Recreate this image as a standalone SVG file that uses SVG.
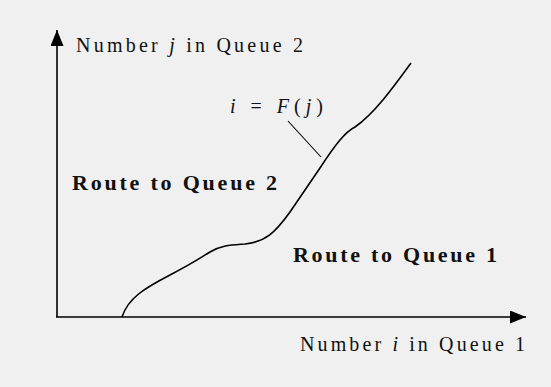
<svg xmlns="http://www.w3.org/2000/svg" width="551" height="387" viewBox="0 0 551 387">
<style>
text{font-family:"Liberation Serif","DejaVu Serif",serif;font-size:20px;fill:#111}
.b{font-weight:bold;font-size:22px}
.it{font-style:italic}
.ax{stroke:#000;stroke-width:1.6;fill:none}
.cv{stroke:#000;stroke-width:1.6;fill:none}
</style>
<defs>
<marker id="ah" markerWidth="16" markerHeight="13" refX="16" refY="6.5" orient="auto" markerUnits="userSpaceOnUse">
<path d="M0,0 L16,6.5 L0,13 z" fill="#000"/>
</marker>
</defs>
<rect width="551" height="387" fill="#f0f0f0"/>
<g id="connectors">
<line class="ax" x1="57" y1="317" x2="57" y2="30" marker-end="url(#ah)"/>
<line class="ax" x1="56" y1="317" x2="526" y2="317" marker-end="url(#ah)"/>
<path class="cv" d="M122,317 C128,298 145,288 170,275 S200,258 210,252 C222,245 232,245 245,244 C265,242 275,233 290,212 L320,168 C335,145 345,132 355,127 C375,113 395,85 411,63"/>
<line x1="288" y1="121" x2="321" y2="157" stroke="#000" stroke-width="1.1"/>
</g>
<g id="y-label"><text x="76" y="52" textLength="227" lengthAdjust="spacing">Number <tspan class="it">j</tspan> in Queue 2</text></g>
<g id="x-label"><text x="300" y="351" textLength="225" lengthAdjust="spacing">Number <tspan class="it">i</tspan> in Queue 1</text></g>
<g id="curve-label"><text x="230" y="113" textLength="93" lengthAdjust="spacing"><tspan class="it">i</tspan> = <tspan class="it">F</tspan>(<tspan class="it">j</tspan>)</text></g>
<g id="region2"><text class="b" x="72" y="190" textLength="205" lengthAdjust="spacing">Route to Queue 2</text></g>
<g id="region1"><text class="b" x="293" y="262" textLength="204" lengthAdjust="spacing">Route to Queue 1</text></g>
</svg>
